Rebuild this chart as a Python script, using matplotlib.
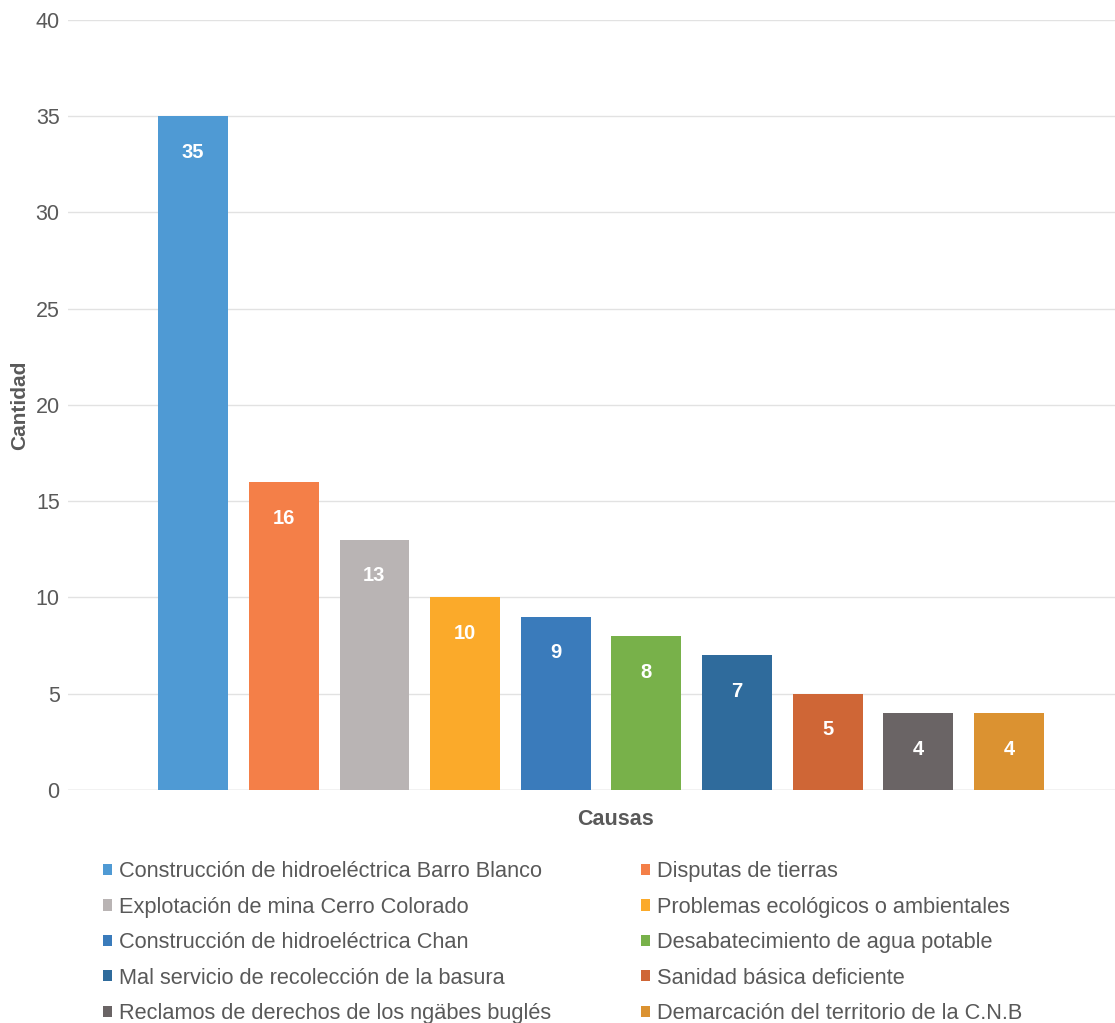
import matplotlib.pyplot as plt
from matplotlib.patches import Patch

plt.rcParams['font.family'] = ['Liberation Sans', 'DejaVu Sans']

causas = [
    'Construcción de hidroeléctrica Barro Blanco',
    'Disputas de tierras',
    'Explotación de mina Cerro Colorado',
    'Problemas ecológicos o ambientales',
    'Construcción de hidroeléctrica Chan',
    'Desabatecimiento de agua potable',
    'Mal servicio de recolección de la basura',
    'Sanidad básica deficiente',
    'Reclamos de derechos de los ngäbes buglés',
    'Demarcación del territorio de la C.N.B',
]
cantidad = [35, 16, 13, 10, 9, 8, 7, 5, 4, 4]
colores = ['#4f9ad4', '#f47f48', '#b9b4b4', '#fbaa2a', '#3a7bbb',
           '#78b14a', '#2f6b9c', '#cf6636', '#6a6465', '#db9231']

fig = plt.figure(figsize=(11.15, 10.23), dpi=100)
ax = fig.add_axes([0.061, 0.2278, 0.939, 0.7527])

x = list(range(len(cantidad)))
bars = ax.bar(x, cantidad, width=0.77, color=colores, zorder=3)

for xi, v in zip(x, cantidad):
    ax.annotate(str(v), (xi, v), xytext=(0, -26), textcoords='offset points',
                ha='center', va='center', color='white', fontsize=14.5,
                fontweight='bold', zorder=4)

ax.set_xlim(-1.38, 10.17)
ax.set_ylim(0, 40)
ax.set_yticks(range(0, 41, 5))
ax.yaxis.grid(True, color='#e2e2e2', linewidth=1, zorder=0)
ax.set_xticks([])
for s in ax.spines.values():
    s.set_visible(False)
ax.tick_params(axis='y', length=0, labelsize=15.5, labelcolor='#595959', pad=6)
ax.axhline(0, color='#d8d8d8', linewidth=1, zorder=2)

ax.set_ylabel('Cantidad', fontsize=15, fontweight='bold', color='#595959')
ax.set_xlabel('Causas', fontsize=15.5, fontweight='bold', color='#595959')
ax.yaxis.set_label_coords(-0.046, 0.5)
ax.yaxis.label.set_va('center')
ax.xaxis.set_label_coords(0.523, -0.039)
ax.xaxis.label.set_va('center')

# legend filled row by row in the original -> reorder for column filling
orden = [0, 2, 4, 6, 8, 1, 3, 5, 7, 9]
handles = [Patch(facecolor=colores[i]) for i in orden]
labels = [causas[i] for i in orden]
fig.legend(handles, labels, ncol=2, loc='upper left',
           bbox_to_anchor=(0.0767, 0.175), frameon=False,
           fontsize=15.7, labelcolor='#595959',
           handlelength=0.42, handleheight=0.42, handletextpad=0.3,
           columnspacing=4.15, labelspacing=0.66, borderpad=0.3)

fig.savefig('out.png', dpi=100)
